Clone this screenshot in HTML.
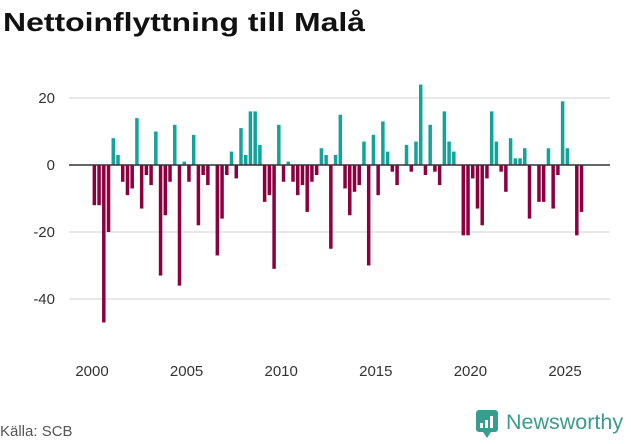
<!DOCTYPE html>
<html><head><meta charset="utf-8"><style>
body{margin:0;background:#fff;width:631px;height:439px;overflow:hidden;font-family:"Liberation Sans","DejaVu Sans",sans-serif}
</style></head><body>
<svg id="chart" width="631" height="439">
<text x="3" y="31" font-size="26" font-weight="bold" fill="#111" textLength="362" lengthAdjust="spacingAndGlyphs">Nettoinflyttning till Malå</text>
<g id="grid"></g><g id="bars"></g><g id="axes"></g>
<text x="0" y="436" font-size="15" fill="#555">Källa: SCB</text>
<g>
<rect x="476" y="410" width="22" height="22" rx="3" fill="#3a9c8e"/>
<path d="M483 432 L487 438 L491 432Z" fill="#3a9c8e"/>
<rect x="480" y="423" width="3" height="5" fill="#fff"/><rect x="485" y="420" width="3" height="8" fill="#fff"/><rect x="490" y="416" width="3" height="12" fill="#fff"/>
<text x="506" y="429" font-size="21.5" fill="#3a9c8e">Newsworthy</text>
</g>
</svg>
<script>
const startYear = 2000;
const values = [-12,-12,-47,-20, 8,3,-5,-9, -7,14,-13,-3, -6,10,-33,-15, -5,12,-36,1, -5,9,-18,-3, -6,0,-27,-16, -3,4,-4,11, 3,16,16,6, -11,-9,-31,12, -5,1,-5,-9, -6,-14,-5,-3, 5,3,-25,3, 15,-7,-15,-8, -6,7,-30,9, -9,13,4,-2, -6,0,6,-2, 7,24,-3,12, -2,-6,16,7, 4,0,-21,-21, -4,-13,-18,-4, 16,7,-2,-8, 8,2,2,5, -16,0,-11,-11, 5,-13,-3,19, 5,0,-21,-14];
const yTicks = [20,0,-20,-40];
const xTicks = [2000,2005,2010,2015,2020,2025];
const NS='http://www.w3.org/2000/svg';
const x = yr => 92 + (yr-2000)*18.92;
const y = v => 165 - v*3.35;
function mk(tag, attrs, parent){const e=document.createElementNS(NS,tag);for(const k in attrs)e.setAttribute(k,attrs[k]);parent.appendChild(e);return e;}
const grid=document.getElementById('grid'),bars=document.getElementById('bars'),axes=document.getElementById('axes');
yTicks.forEach(t=>{
  if(t!==0){const l=mk('line',{x1:69,x2:610,y1:y(t),y2:y(t),stroke:'#e0e0e0','stroke-width':1.5},grid);
  
  }
  const tx=mk('text',{x:55,y:y(t)+5,'font-size':15,fill:'#333','text-anchor':'end'},axes);
  tx.textContent=t;
  
  
});
values.forEach((v,i)=>{
  const yr=startYear+i/4;
  const r=mk('rect',{x:x(yr)+0.6,width:3.5,y:Math.min(y(v),y(0)),height:Math.abs(y(v)-y(0)),fill:v>=0?'#12a39a':'#8c0040'},bars);
  
  
});
const z=mk('line',{x1:69,x2:610,y1:y(0),y2:y(0),stroke:'#333','stroke-width':1.5},axes);


xTicks.forEach(t=>{
  const tx=mk('text',{x:x(t),y:376,'font-size':15,fill:'#333','text-anchor':'middle'},axes);
  tx.textContent=t;
  
  
});
</script>
</body></html>
